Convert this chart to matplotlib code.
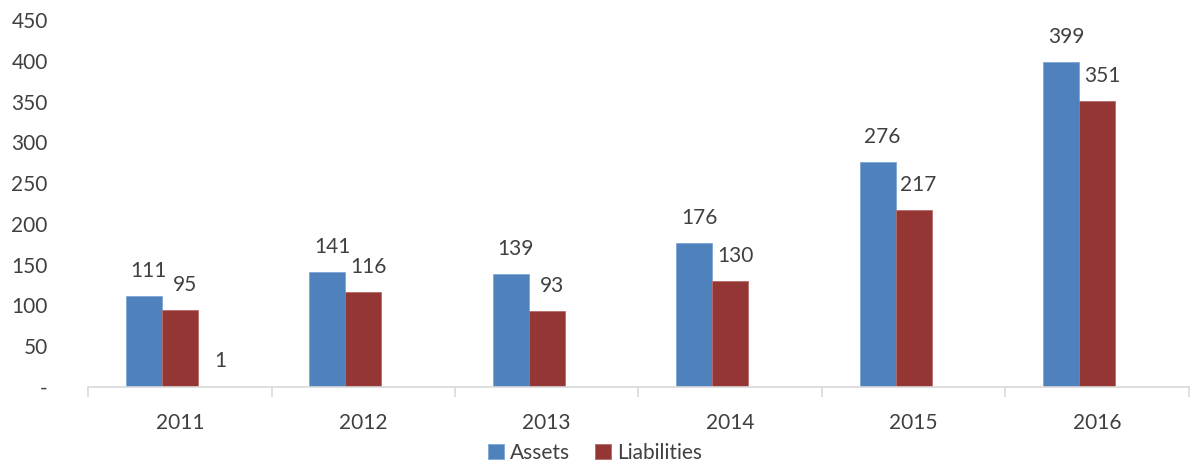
import numpy as np
import matplotlib
matplotlib.use('Agg')
import matplotlib.pyplot as plt
from matplotlib.ticker import FixedLocator, FuncFormatter

# font / colours
plt.rcParams['font.family'] = ['Lato', 'DejaVu Sans']
text_color = '#404040'
fs = 15

# data
years = ['2011', '2012', '2013', '2014', '2015', '2016']
assets = [111, 141, 139, 176, 276, 399]
liabilities = [95, 116, 93, 130, 217, 351]
other = [1, None, None, None, None, None]   # hidden third series, label only

fig = plt.figure(figsize=(11.9, 4.62), dpi=100)
ax = fig.add_axes([0.074, 0.1623, 0.925, 0.7944])

x = np.arange(len(years))
w = 0.196
b1 = ax.bar(x - w, assets, w, color='#4F81BD', edgecolor='#7FA6D6', linewidth=0.6, label='Assets')
b2 = ax.bar(x, liabilities, w, color='#943634', edgecolor='#B86B69', linewidth=0.6, label='Liabilities')

def put_labels(xs, vals):
    for xi, v in zip(xs, vals):
        if v is None:
            continue
        ax.annotate(f'{v}', (xi, v), xytext=(3.6, 18), textcoords='offset points',
                    ha='center', va='center', fontsize=fs, color=text_color)

put_labels(x - w, assets)
put_labels(x, liabilities)
put_labels(x + w, other)

ax.set_xlim(-0.5, len(years) - 0.5)
ax.set_ylim(0, 450)
ax.set_yticks(np.arange(0, 451, 50))
ax.yaxis.set_major_formatter(FuncFormatter(lambda v, p: '-' if v == 0 else f'{int(v)}'))
ax.tick_params(axis='y', length=0, pad=29, labelsize=fs, labelcolor=text_color)

ax.set_xticks(x)
ax.set_xticklabels(years)
ax.xaxis.set_minor_locator(FixedLocator(np.arange(-0.5, len(years), 1.0)))
ax.tick_params(axis='x', which='major', length=0, pad=19, labelsize=fs, labelcolor=text_color)
ax.tick_params(axis='x', which='minor', length=7, width=1.2, color='#D9D9D9')

for s in ['top', 'right', 'left']:
    ax.spines[s].set_visible(False)
ax.spines['bottom'].set_color('#D9D9D9')
ax.spines['bottom'].set_linewidth(1.2)

fig.legend(handles=[b1, b2], loc='center', bbox_to_anchor=(0.5, 0.02), ncol=2,
           frameon=False, fontsize=fs, labelcolor=text_color,
           handlelength=0.75, handleheight=0.75, handletextpad=0.3, columnspacing=1.2,
           borderpad=0)

fig.savefig('out.png', dpi=100)
